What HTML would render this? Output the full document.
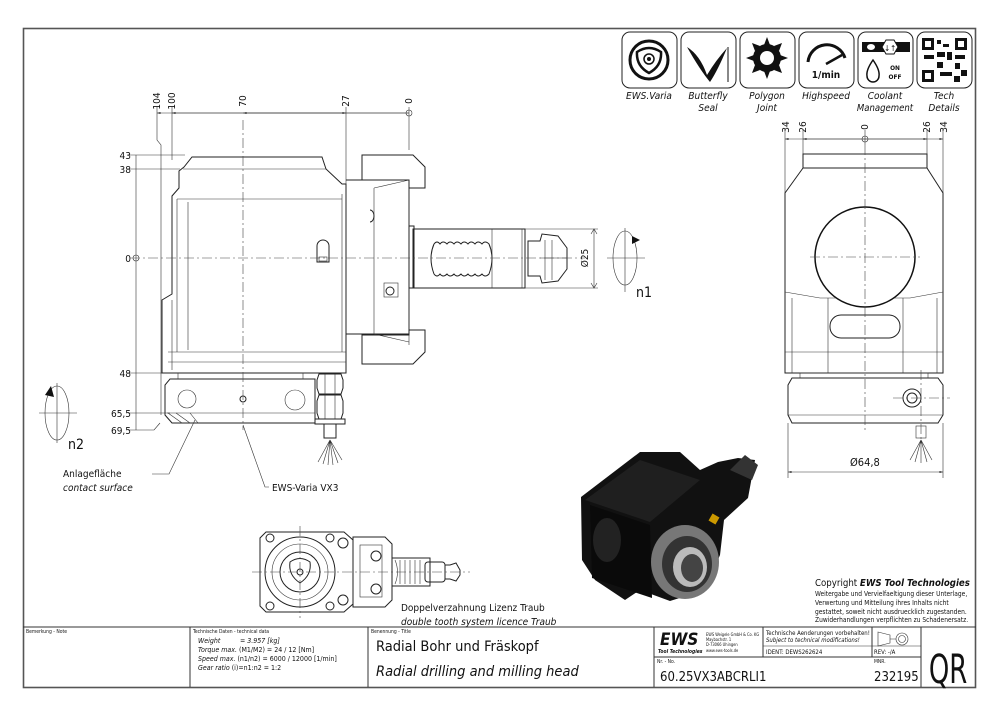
<!DOCTYPE html>
<html><head><meta charset="utf-8"><style>
html,body{margin:0;padding:0;background:#fff;width:1000px;height:715px;overflow:hidden}
svg{display:block}
text{font-family:"DejaVu Sans Condensed","DejaVu Sans","Liberation Sans",sans-serif;fill:#111}
.it{font-style:italic}
.l{stroke:#222;stroke-width:1;fill:none}
.t{stroke:#333;stroke-width:.6;fill:none}
.c{stroke:#444;stroke-width:.6;fill:none;stroke-dasharray:10 3 2 3}
.w{stroke:#222;stroke-width:1;fill:#fff}
</style></head><body>
<svg width="1000" height="715" viewBox="0 0 1000 715" xmlns="http://www.w3.org/2000/svg">
<defs><marker id="a" viewBox="0 0 10 10" refX="10" refY="5" markerWidth="6" markerHeight="6" orient="auto-start-reverse"><path d="M0,2 L10,5 L0,8z" fill="#222"/></marker></defs>
<rect x="23.5" y="28.5" width="952" height="659" fill="none" stroke="#555" stroke-width="1.6"/>

<g stroke="#222" stroke-width="1" fill="#fff">
<rect x="622" y="32" width="55" height="56" rx="8"/>
<rect x="681" y="32" width="55" height="56" rx="8"/>
<rect x="740" y="32" width="55" height="56" rx="8"/>
<rect x="799" y="32" width="55" height="56" rx="8"/>
<rect x="858" y="32" width="55" height="56" rx="8"/>
<rect x="917" y="32" width="55" height="56" rx="8"/>
</g>
<circle cx="649" cy="60" r="19" fill="none" stroke="#111" stroke-width="3"/>
<path d="M637,52 Q649,44 661,52 Q662,66 649,73 Q636,66 637,52z" fill="none" stroke="#111" stroke-width="2.5"/>
<circle cx="649" cy="59" r="5" fill="none" stroke="#111" stroke-width="1.5"/><circle cx="649" cy="59" r="2" fill="#111"/>
<path d="M687,47 Q700,55 707,75 Q716,60 727,48 Q718,70 710,82 Q700,70 687,47z" fill="#111"/>
<line x1="728" y1="47" x2="728" y2="82" stroke="#111" stroke-width="1"/>
<g transform="translate(767,58)"><circle r="14" fill="#111"/><circle r="7" fill="#fff"/>
<path d="M0,-21 L3,-13 L-3,-13z M0,21 L3,13 L-3,13z M-21,0 L-13,3 L-13,-3z M21,0 L13,3 L13,-3z M15,-15 L7,-12 L12,-7z M-15,15 L-7,12 L-12,7z M15,15 L12,7 L7,12z M-15,-15 L-12,-7 L-7,-12z" fill="#111"/></g>
<path d="M808,62 A19,19 0 0 1 845,58" fill="none" stroke="#111" stroke-width="3"/>
<line x1="826" y1="64" x2="842" y2="55" stroke="#111" stroke-width="2.5"/>
<text x="826" y="78" font-size="10" font-weight="bold" text-anchor="middle">1/min</text>
<rect x="862" y="42" width="48" height="10" fill="#111"/><ellipse cx="871" cy="47" rx="4" ry="3" fill="#fff"/>
<path d="M886,40 L894,40 L898,47 L894,54 L886,54 L882,47z" fill="#fff" stroke="#111"/>
<text x="890" y="51" font-size="8" text-anchor="middle">↓↑</text>
<path d="M873,60 Q880,70 879,76 A6,6 0 0 1 867,76 Q866,70 873,60z" fill="none" stroke="#111" stroke-width="1.5"/>
<text x="895" y="70" font-size="6.5" font-weight="bold" text-anchor="middle">ON</text>
<text x="895" y="79" font-size="6.5" font-weight="bold" text-anchor="middle">OFF</text>
<g fill="#111"><rect x="922" y="38" width="12" height="12"/><rect x="955" y="38" width="12" height="12"/><rect x="922" y="70" width="12" height="12"/>
<rect x="937" y="40" width="4" height="4"/><rect x="943" y="44" width="6" height="3"/><rect x="937" y="52" width="8" height="5"/><rect x="947" y="52" width="5" height="8"/><rect x="955" y="55" width="10" height="4"/><rect x="924" y="55" width="10" height="4"/><rect x="937" y="62" width="6" height="6"/><rect x="955" y="63" width="5" height="6"/><rect x="961" y="70" width="6" height="6"/><rect x="940" y="72" width="12" height="4"/><rect x="954" y="76" width="6" height="6"/></g>
<g fill="#fff"><rect x="925" y="41" width="6" height="6"/><rect x="958" y="41" width="6" height="6"/><rect x="925" y="73" width="6" height="6"/></g>
<g font-size="10" class="it" text-anchor="middle">
<text x="649" y="99" class="it">EWS.Varia</text>
<text x="708" y="99" class="it">Butterfly</text><text x="708" y="111" class="it">Seal</text>
<text x="767" y="99" class="it">Polygon</text><text x="767" y="111" class="it">Joint</text>
<text x="826" y="99" class="it">Highspeed</text>
<text x="885" y="99" class="it">Coolant</text><text x="885" y="111" class="it" font-size="9.5">Management</text>
<text x="944" y="99" class="it">Tech</text><text x="944" y="111" class="it">Details</text>
</g>

<g class="t">
<line x1="157" y1="113" x2="409" y2="113" marker-start="url(#a)"/>
<line x1="172" y1="113" x2="409" y2="113" marker-start="url(#a)"/>
<line x1="243" y1="113" x2="346" y2="113" marker-start="url(#a)" marker-end="url(#a)"/>
<path d="M157,107 V140 L161,145 V415"/><line x1="172" y1="107" x2="172" y2="160"/>
<line x1="346" y1="107" x2="346" y2="185"/><line x1="409" y1="107" x2="409" y2="150"/>
<line x1="136" y1="155" x2="136" y2="430"/>
<line x1="128" y1="155" x2="185" y2="155"/><line x1="128" y1="169" x2="180" y2="169"/>
<line x1="128" y1="373" x2="165" y2="373"/><line x1="128" y1="413" x2="170" y2="413"/>
<path d="M128,430 H154 L160,423"/>
</g>
<circle cx="409" cy="113" r="3" class="t"/><circle cx="136" cy="258" r="3" class="t"/>
<g font-size="10" text-anchor="middle">
<text transform="translate(160,101) rotate(-90)">104</text>
<text transform="translate(175,101) rotate(-90)">100</text>
<text transform="translate(246,101) rotate(-90)">70</text>
<text transform="translate(349,101) rotate(-90)">27</text>
<text transform="translate(412,101) rotate(-90)">0</text>
</g>
<g font-size="10" text-anchor="end">
<text x="131" y="159">43</text><text x="131" y="173">38</text><text x="131" y="262">0</text>
<text x="131" y="377">48</text><text x="131" y="417">65,5</text><text x="131" y="434">69,5</text>
</g>
<path class="l" d="M192,157 H322 L326,169 L342,184 H346 V373 H162 V300 L172,294 V196 L179,188 V171 L184,167 L192,157z"/>
<path class="t" d="M183,169 H326 M177,199 H342 M177,199 V352 M188,202 V350 M342,194 V352 M168,352 H346 M168,362 H346 M172,300 V370"/>
<path class="l" d="M317,246 A6,6 0 0 1 329,246 V262 H317z"/><rect x="319" y="257" width="8" height="4" class="t"/>
<path class="l" d="M170,379 H315 V423 H172 L165,415 V385z"/>
<path class="t" d="M178,373 V379 M303,373 V379 M167,413 H315"/>
<circle cx="187" cy="399" r="9" class="t"/><circle cx="295" cy="400" r="10" class="t"/>
<circle cx="243" cy="399" r="3" class="l"/>
<path class="t" d="M168,413 L182,423 M176,413 L190,423 M190,413 L198,423"/>
<path class="l" d="M319,374 H341 L343,380 V388 L341,394 H319 L317,388 V380z M319,395 H341 L343,401 V413 L341,419 H319 L317,413 V401z"/>
<path class="t" d="M325,374 V419 M335,374 V419"/>
<rect x="315" y="419" width="30" height="5" class="l"/><rect x="324" y="424" width="12" height="14" class="l"/>
<path class="t" d="M330,440 L318,462 M330,440 L323,464 M330,440 L328,465 M330,440 L333,465 M330,440 L338,463 M330,440 L342,460"/>
<path class="l" d="M346,180 H409 V334 H346"/>
<path class="t" d="M374,188 L409,180 M374,188 V334 M374,334 L409,342 M409,180 V345"/>
<path class="l" d="M362,155 H413 L425,167 V188 H409 V180 H362z"/>
<path class="l" d="M362,335 H409 V330 H425 V352 L413,364 H362z"/>
<path class="l" d="M370,210 A4,6 0 0 1 370,222"/>
<rect x="384" y="283" width="14" height="14" class="t"/><circle cx="390" cy="291" r="4" class="l"/>
<rect x="409" y="226" width="5" height="62" class="l"/>
<rect x="413" y="229" width="112" height="59" class="l"/>
<line x1="492" y1="229" x2="492" y2="288" class="t"/><line x1="522" y1="229" x2="522" y2="288" class="t"/>
<path class="l" d="M434,244 Q428,258 434,274 M434,244 Q437,240 440,244 Q443,240 447,244 Q450,240 454,244 Q457,240 461,244 Q464,240 468,244 Q471,240 475,244 Q478,240 482,244 Q485,240 489,244 Q495,258 489,274 Q485,278 482,274 Q478,278 475,274 Q471,278 468,274 Q464,278 461,274 Q457,278 454,274 Q450,278 447,274 Q443,278 440,274 Q437,278 434,274"/>
<path class="l" d="M528,241 H540 L542,234 L558,236 L567,248 V269 L558,281 L542,283 L540,276 H528z"/>
<path class="t" d="M545,240 V280 M552,240 V280 M540,258 H567"/>
<line x1="130" y1="258" x2="585" y2="258" class="c"/><line x1="243" y1="120" x2="243" y2="430" class="c"/>
<path class="t" d="M525,229 H598 M525,288 H598 M594,229 V288"/>
<path d="M591,234 L594,229 L597,234 M591,283 L594,288 L597,283" class="t"/>
<text transform="translate(588,258) rotate(-90)" font-size="10" text-anchor="middle">Ø25</text>
<ellipse cx="625" cy="258" rx="12" ry="27" class="t"/><path class="t" d="M607,258 H645 M625,228 V292"/>
<path d="M632,236 L640,240 L632,244z" fill="#111"/>
<text x="636" y="297" font-size="14" font-family="Liberation Sans">n1</text>
<ellipse cx="57" cy="413" rx="12" ry="27" class="t"/><path class="t" d="M39,413 H77 M57,383 V443"/>
<path d="M45,395 L51,386 L54,397z" fill="#111"/>
<text x="68" y="449" font-size="14" font-family="Liberation Sans">n2</text>
<text x="63" y="477" font-size="10">Anlagefläche</text>
<text x="63" y="491" font-size="10" class="it">contact surface</text>
<path class="t" d="M152,474 H169 L195,420"/>
<text x="272" y="491" font-size="10">EWS-Varia VX3</text>
<path class="t" d="M269,487 H265 L243,425"/>

<g class="t">
<line x1="785" y1="139" x2="943" y2="139" marker-start="url(#a)" marker-end="url(#a)"/>
<line x1="803" y1="139" x2="927" y2="139" marker-start="url(#a)" marker-end="url(#a)"/>
<line x1="785" y1="130" x2="785" y2="200"/><line x1="803" y1="130" x2="803" y2="155"/>
<line x1="927" y1="130" x2="927" y2="155"/><line x1="943" y1="130" x2="943" y2="200"/>
<line x1="865" y1="130" x2="865" y2="145"/>
</g>
<circle cx="865" cy="139" r="3" class="t"/>
<g font-size="10" text-anchor="middle">
<text transform="translate(789,127) rotate(-90)">34</text><text transform="translate(806,127) rotate(-90)">26</text>
<text transform="translate(868,127) rotate(-90)">0</text><text transform="translate(930,127) rotate(-90)">26</text>
<text transform="translate(947,127) rotate(-90)">34</text>
</g>
<rect x="803" y="154" width="124" height="14" class="l"/>
<path class="l" d="M803,168 L785,193 V373 H943 V193 L927,168"/>
<path class="t" d="M785,292 L820,298 H910 L943,292 M785,352 H943 M792,298 V373 M828,298 V373 M903,298 V373 M937,298 V373"/>
<rect x="830" y="315" width="70" height="23" rx="11" class="l"/>
<circle cx="865" cy="257" r="50" fill="#fff" stroke="#111" stroke-width="1.5"/>
<rect x="800" y="373" width="128" height="5" class="t"/>
<path class="l" d="M792,378 H938 L943,385 V415 L938,423 H792 L788,415 V385z"/>
<line x1="788" y1="415" x2="943" y2="415" class="t"/>
<circle cx="912" cy="398" r="9" class="l"/><circle cx="912" cy="398" r="5" class="l"/>
<rect x="916" y="426" width="10" height="12" class="t"/>
<path class="t" d="M921,440 L910,460 M921,440 L915,462 M921,440 L921,463 M921,440 L927,462 M921,440 L932,460"/>
<path class="c" d="M865,145 V430 M810,257 H920 M893,398 H950 M921,370 V440"/>
<path class="t" d="M788,423 V478 M943,423 V478"/>
<line x1="788" y1="472" x2="943" y2="472" class="t" marker-start="url(#a)" marker-end="url(#a)"/>
<text x="850" y="466" font-size="11">Ø64,8</text>

<path class="l" d="M266,532 H344 L353,540 V604 L344,612 H266 L260,606 V538z"/>
<path class="l" d="M353,537 H385 L392,544 V600 L385,607 H353z"/>
<rect x="360" y="545" width="22" height="52" class="t"/>
<path class="l" d="M392,558 H430 V586 H392"/>
<path class="t" d="M395,560 Q400,572 395,584 M400,560 V584 M405,560 V584 M410,560 V584 M415,560 V584 M420,560 V584"/>
<rect x="425" y="562" width="20" height="20" rx="3" class="l"/>
<path class="l" d="M445,565 H450 L456,563 L460,570 V575 L456,581 L450,579 H445z"/>
<circle cx="300" cy="572" r="35" class="l"/><circle cx="300" cy="572" r="28" class="t"/><circle cx="300" cy="572" r="20" class="l"/>
<path class="l" d="M290,562 Q300,555 310,562 Q312,575 300,583 Q288,575 290,562z"/><circle cx="300" cy="572" r="3" class="l"/>
<g class="l"><circle cx="270" cy="538" r="4"/><circle cx="330" cy="538" r="4"/><circle cx="270" cy="606" r="4"/><circle cx="330" cy="606" r="4"/><circle cx="343" cy="543" r="5"/><circle cx="343" cy="600" r="5"/><circle cx="376" cy="556" r="5"/><circle cx="376" cy="589" r="5"/></g>
<path class="c" d="M252,572 H470 M300,526 V618"/>
<text x="401" y="611" font-size="10">Doppelverzahnung Lizenz Traub</text>
<text x="401" y="625" font-size="10" class="it">double tooth system licence Traub</text>

<g>
<path d="M581,497 L640,452 L680,452 L700,470 L718,462 L738,458 L755,460 L748,498 L724,520 L720,555 L705,590 L670,601 L640,590 L625,600 L595,580 L582,560z" fill="#111"/>
<path d="M585,500 L640,460 L700,480 L650,522z" fill="#1f1f1f"/>
<path d="M590,505 L650,525 L652,598 L592,578z" fill="#0a0a0a"/>
<ellipse cx="607" cy="540" rx="14" ry="22" fill="#222"/>
<ellipse cx="685" cy="562" rx="34" ry="37" fill="#777"/>
<ellipse cx="687" cy="564" rx="25" ry="28" fill="#333"/>
<ellipse cx="690" cy="567" rx="17" ry="20" fill="#bbb"/>
<ellipse cx="692" cy="568" rx="11" ry="14" fill="#444"/>
<path d="M730,470 L745,455 L758,465 L752,480z" fill="#333"/>
<rect x="710" y="515" width="8" height="8" fill="#c90" transform="rotate(30 714 519)"/>
</g>

<text x="815" y="586" font-size="9.6" font-family="Liberation Sans">Copyright <tspan font-weight="bold" font-style="italic">EWS Tool Technologies</tspan></text>
<g font-size="6.6" font-family="Liberation Sans">
<text x="815" y="596">Weitergabe und Vervielfaeltigung dieser Unterlage,</text>
<text x="815" y="605">Verwertung und Mitteilung ihres Inhalts nicht</text>
<text x="815" y="614">gestattet, soweit nicht ausdruecklich zugestanden.</text>
<text x="815" y="622">Zuwiderhandlungen verpflichten zu Schadenersatz.</text>
</g>

<g stroke="#333" stroke-width="1" fill="none">
<line x1="23" y1="627" x2="976" y2="627"/>
<line x1="190" y1="627" x2="190" y2="687"/><line x1="368" y1="627" x2="368" y2="687"/>
<line x1="654" y1="627" x2="654" y2="687"/><line x1="921" y1="627" x2="921" y2="687"/>
<line x1="763" y1="627" x2="763" y2="657"/><line x1="872" y1="627" x2="872" y2="657"/>
<line x1="763" y1="646" x2="921" y2="646" stroke-width=".6"/><line x1="654" y1="657" x2="921" y2="657"/>
</g>
<g font-size="5">
<text x="26" y="633">Bemerkung - Note</text>
<text x="193" y="633">Technische Daten - technical data</text>
<text x="371" y="633">Benennung - Title</text>
<text x="657" y="663">Nr. - No.</text><text x="874" y="663">MNR.</text>
</g>
<g font-size="7" class="it">
<text x="198" y="643" class="it">Weight</text><text x="240" y="643">= 3.957 [kg]</text>
<text x="198" y="652" class="it">Torque max. <tspan font-style="normal">(M1/M2)  = 24 / 12 [Nm]</tspan></text>
<text x="198" y="661" class="it">Speed max. <tspan font-style="normal">(n1/n2)  = 6000 / 12000 [1/min]</tspan></text>
<text x="198" y="670" class="it">Gear ratio <tspan font-style="normal">(i)=n1:n2  = 1:2</tspan></text>
</g>
<text x="376" y="651" font-size="14.5">Radial Bohr und Fräskopf</text>
<text x="376" y="676" font-size="14.5" class="it">Radial drilling and milling head</text>
<text x="660" y="645" font-size="17" font-weight="bold" font-style="italic" font-family="Liberation Sans">EWS</text>
<text x="658" y="653" font-size="5" font-weight="bold" font-style="italic" font-family="Liberation Sans">Tool Technologies</text>
<g font-size="4" font-family="Liberation Sans"><text x="706" y="636">EWS Weigele GmbH &amp; Co. KG</text><text x="706" y="641">Maybachstr. 1</text><text x="706" y="646">D-73066 Uhingen</text><text x="706" y="652">www.ews-tools.de</text></g>
<text x="766" y="635" font-size="6">Technische Aenderungen vorbehalten!</text>
<text x="766" y="642" font-size="6" class="it">Subject to technical modifications!</text>
<text x="766" y="654" font-size="6">IDENT:  DEWS262624</text>
<text x="874" y="654" font-size="6">REV:  -/A</text>
<path d="M878,632 L890,635 V643 L878,646z M890,639 H896" class="t"/><circle cx="902" cy="639" r="6" class="t"/><circle cx="902" cy="639" r="3.5" class="t"/>
<text x="660" y="681" font-size="13">60.25VX3ABCRLI1</text>
<text x="874" y="681" font-size="13">232195</text>
<text x="0" y="0" font-size="40" text-anchor="middle" font-family="Liberation Sans" transform="translate(948,683) scale(0.72,1)">QR</text>
</svg>
</body></html>
